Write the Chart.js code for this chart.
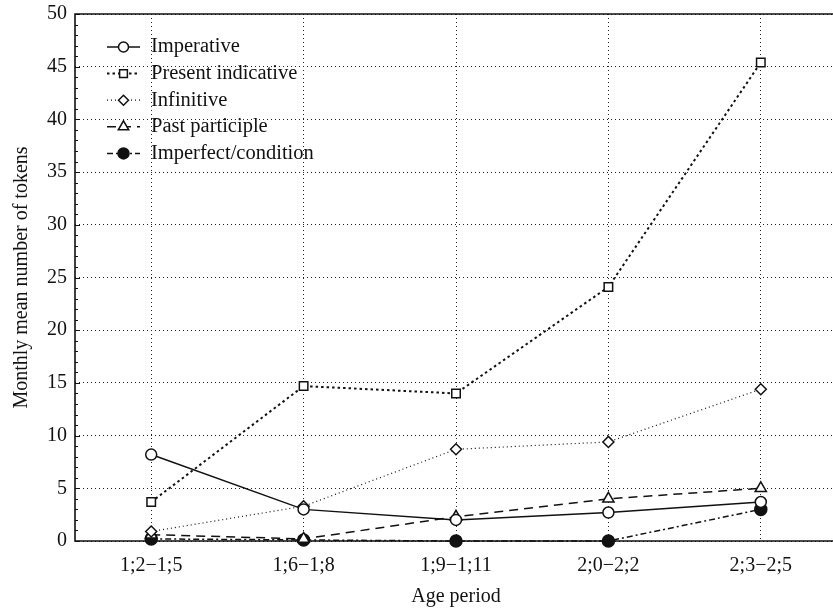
<!DOCTYPE html>
<html>
<head>
<meta charset="utf-8">
<script src="https://cdn.jsdelivr.net/npm/chart.js@4/dist/chart.umd.min.js"></script>
<style>
html,body{margin:0;padding:0;background:#fff;overflow:hidden;width:833px;height:609px;}
canvas{display:block;}
</style>
</head>
<body>
<canvas id="c" width="845" height="609"></canvas>
<script>
const categories = ["1;2\u22121;5", "1;6\u22121;8", "1;9\u22121;11", "2;0\u22122;2", "2;3\u22122;5"];
const seriesNames = ["Imperative", "Present indicative", "Infinitive", "Past participle", "Imperfect/condition"];
const imperative = [8.2, 3.0, 2.0, 2.7, 3.7];
const presentIndicative = [3.7, 14.7, 14.0, 24.1, 45.4];
const infinitive = [0.9, 3.3, 8.7, 9.4, 14.4];
const pastParticiple = [0.6, 0.2, 2.3, 4.0, 5.0];
const imperfectCondition = [0.2, 0.1, 0.0, 0.0, 3.0];
const yTicks = [0, 5, 10, 15, 20, 25, 30, 35, 40, 45, 50];

const FONT = "'Liberation Serif', 'DejaVu Serif', serif";
const INK = '#111';
const FS = 20;

function ds(label, data, style, radius, dash, width, fill) {
  return {
    label, data,
    borderColor: INK, borderWidth: width, borderDash: dash,
    pointStyle: style, pointRadius: radius, pointHoverRadius: radius,
    pointBorderColor: INK, pointBorderWidth: 1.5,
    pointBackgroundColor: fill ? INK : '#fff',
    tension: 0, clip: false, fill: false
  };
}

const datasets = [
  ds(seriesNames[0], imperative, 'circle', 5.5, [], 1.5, false),
  ds(seriesNames[1], presentIndicative, 'rect', 6, [2.5, 3], 2, false),
  ds(seriesNames[2], infinitive, 'rectRot', 5.5, [1, 3], 1.2, false),
  ds(seriesNames[3], pastParticiple, 'triangle', 6.5, [9, 6], 1.5, false),
  ds(seriesNames[4], imperfectCondition, 'circle', 6, [6, 3, 2, 3], 1.5, true)
];

const framePlugin = {
  id: 'frame',
  beforeDatasetsDraw(chart) {
    const {ctx, chartArea: a, scales} = chart;
    const y = scales.y;
    ctx.save();
    ctx.strokeStyle = INK;
    ctx.setLineDash([]);
    ctx.lineWidth = 1;
    ctx.beginPath();
    for (let v = 0; v <= 50; v += 1) {
      const py = Math.round(y.getPixelForValue(v)) + 0.5;
      ctx.moveTo(a.left, py);
      ctx.lineTo(a.left + (v % 5 === 0 ? 5 : 3), py);
    }
    ctx.stroke();
    ctx.lineWidth = 1.6;
    ctx.beginPath();
    ctx.moveTo(a.right + 10, a.top);
    ctx.lineTo(a.left, a.top);
    ctx.lineTo(a.left, a.bottom);
    ctx.lineTo(a.right + 10, a.bottom);
    ctx.stroke();
    ctx.restore();
  }
};

const legendPlugin = {
  id: 'customLegend',
  afterDatasetsDraw(chart) {
    const {ctx, chartArea: a} = chart;
    ctx.save();
    const x0 = a.left + 32, x1 = a.left + 65, xm = (x0 + x1) / 2;
    chart.data.datasets.forEach((d, i) => {
      const yy = a.top + 33 + i * 26.6;
      ctx.strokeStyle = INK;
      ctx.lineWidth = d.borderWidth;
      ctx.setLineDash(d.borderDash);
      ctx.beginPath();
      ctx.moveTo(x0, yy); ctx.lineTo(x1, yy);
      ctx.stroke();
      ctx.setLineDash([]);
      ctx.fillStyle = d.pointBackgroundColor;
      ctx.lineWidth = 1.5;
      Chart.helpers.drawPoint(ctx, {pointStyle: d.pointStyle, radius: d.pointRadius - 0.5, borderWidth: 1.5, rotation: 0}, xm, yy);
      ctx.fillStyle = INK;
      ctx.font = (FS + 0.5) + 'px ' + FONT;
      ctx.textBaseline = 'middle';
      ctx.textAlign = 'left';
      ctx.fillText(d.label, a.left + 76, yy);
    });
    ctx.restore();
  }
};

new Chart(document.getElementById('c'), {
  type: 'line',
  data: { labels: categories, datasets },
  plugins: [framePlugin, legendPlugin],
  options: {
    responsive: false,
    animation: false,
    layout: { padding: { left: 0, top: 14, right: 5, bottom: 0 } },
    plugins: { legend: { display: false }, tooltip: { enabled: false } },
    scales: {
      x: {
        offset: true,
        grid: { offset: false, color: '#222', lineWidth: 1, drawTicks: false },
        border: { display: false, dash: [1, 3] },
        ticks: { color: INK, font: { family: FONT, size: FS }, padding: 13, maxRotation: 0 },
        title: { display: true, text: 'Age period', color: INK, font: { family: FONT, size: FS }, padding: { top: 0, bottom: 0 } },
        afterFit(s) { s.height = 68; s.paddingLeft = 0; s.paddingRight = 0; }
      },
      y: {
        min: 0, max: 50,
        afterBuildTicks(s) { s.ticks = yTicks.map(v => ({ value: v })); },
        grid: { color: '#222', lineWidth: 1, drawTicks: false },
        border: { display: false, dash: [1, 3] },
        ticks: { color: INK, font: { family: FONT, size: FS }, padding: 8 },
        title: { display: true, text: 'Monthly mean number of tokens', color: INK, font: { family: FONT, size: FS }, padding: { top: 10, bottom: 0 } },
        afterFit(s) { s.width = 75; s.paddingTop = 0; s.paddingBottom = 0; }
      }
    }
  }
});
</script>
</body>
</html>
